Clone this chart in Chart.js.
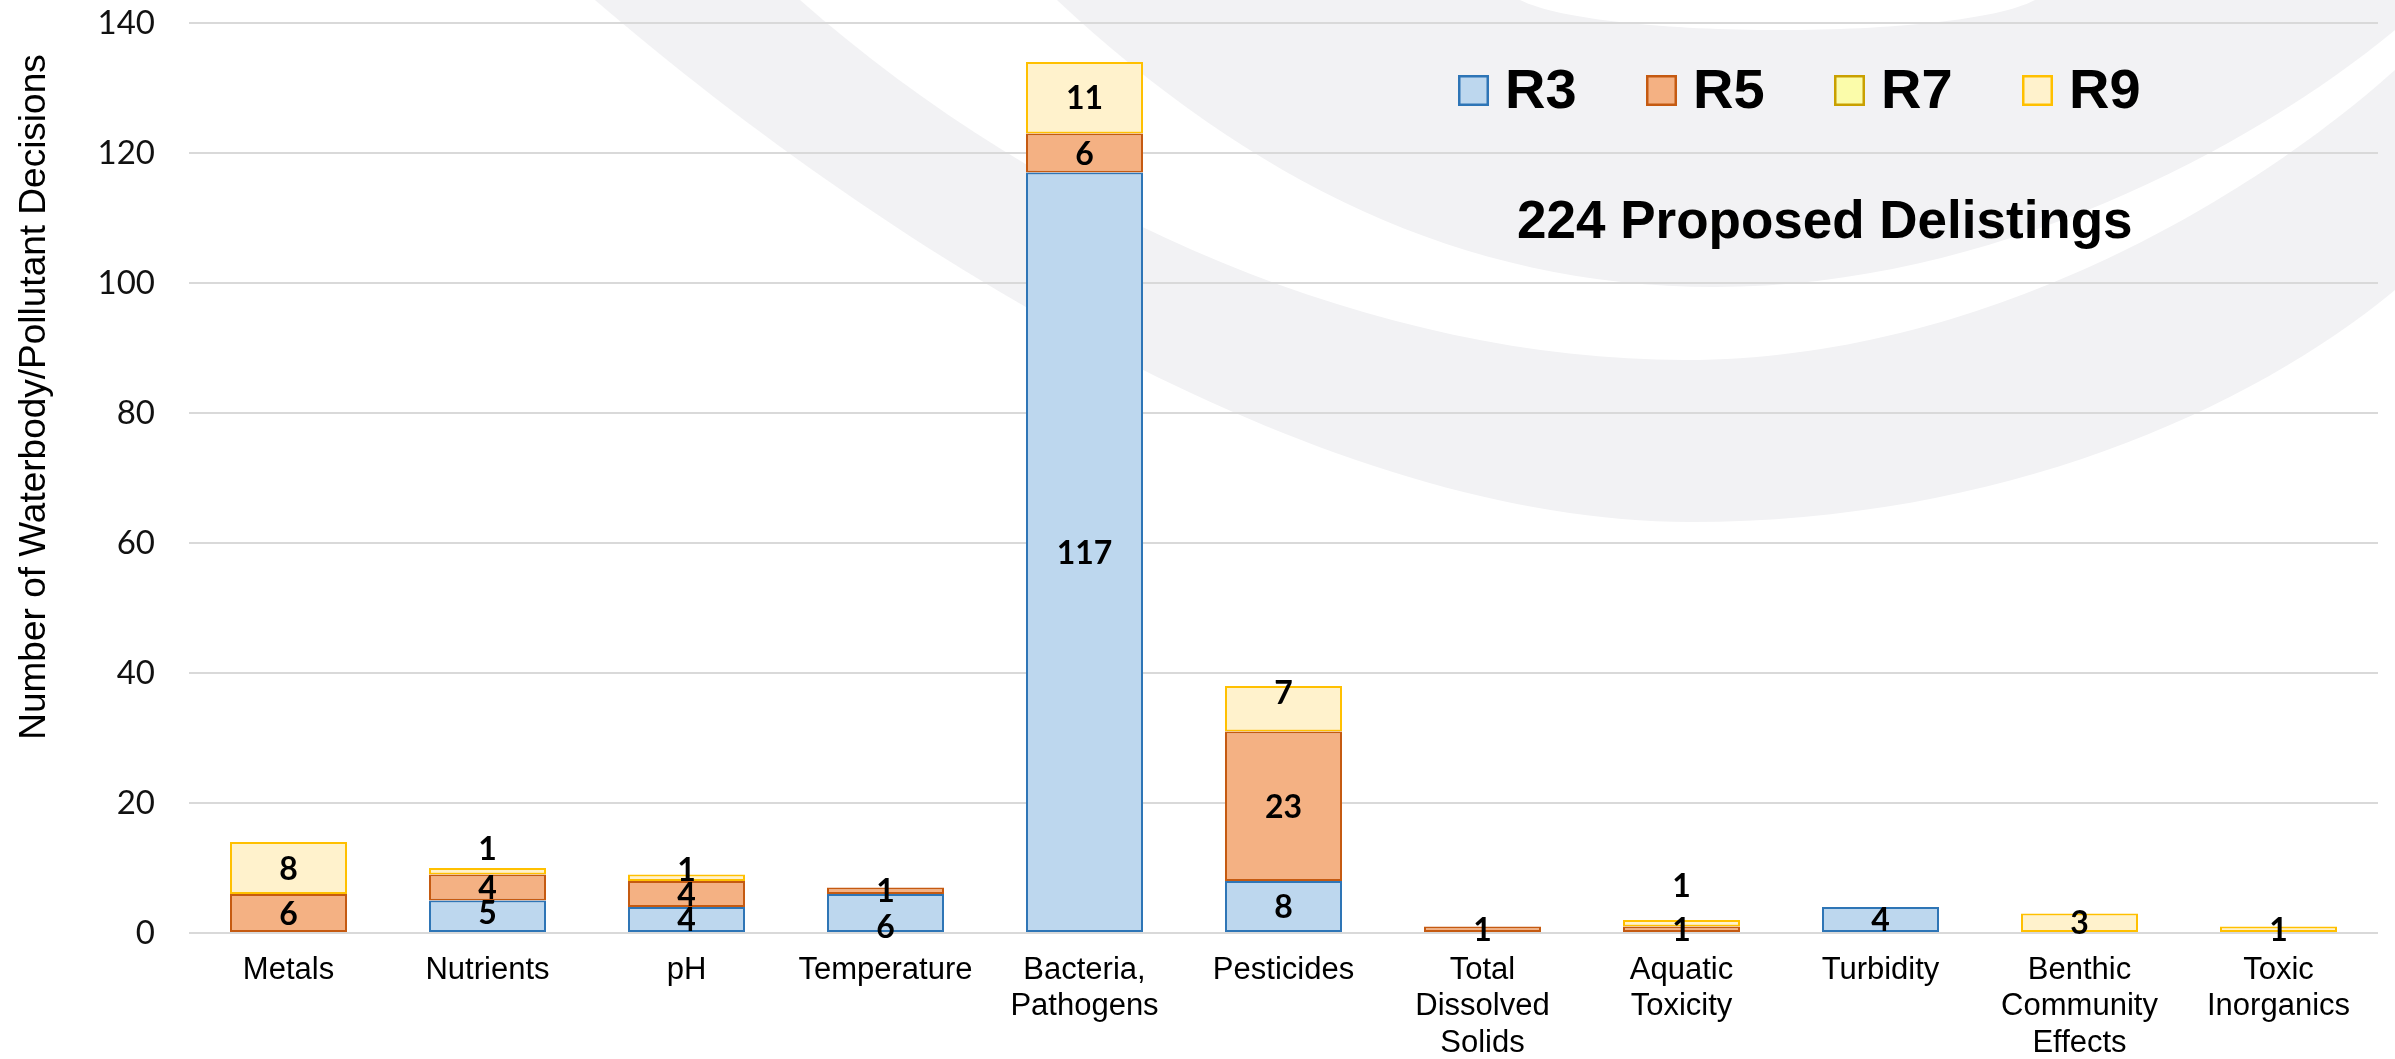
<!DOCTYPE html>
<html><head><meta charset="utf-8">
<script src="https://cdn.jsdelivr.net/npm/chart.js@4.4.1/dist/chart.umd.min.js"></script>
<style>html,body{margin:0;padding:0;background:#fff;overflow:hidden}#wrap{width:2395px;height:1059px;position:relative}canvas{display:block}</style>
</head><body><div id="wrap"><canvas id="c" width="2395" height="1059"></canvas></div>
<script>
// ---- data ----
const categories = [["Metals"],["Nutrients"],["pH"],["Temperature"],["Bacteria,","Pathogens"],["Pesticides"],["Total","Dissolved","Solids"],["Aquatic","Toxicity"],["Turbidity"],["Benthic","Community","Effects"],["Toxic","Inorganics"]];
const seriesNames = ["R3","R5","R7","R9"];
const r3Values = [null,5,4,6,117,8,null,null,4,null,null];
const r5Values = [6,4,4,1,6,23,1,1,null,null,null];
const r7Values = [null,null,null,null,null,null,null,null,null,null,null];
const r9Values = [8,1,1,null,11,7,null,1,null,3,1];
const yTickValues = [0,20,40,60,80,100,120,140];
const yAxisTitle = "Number of Waterbody/Pollutant Decisions";
const annotationText = "224 Proposed Delistings";

// ---- styles ----
const fills = ["#bdd7ee","#f4b183","#fbfcaa","#fff2cc"];
const borders = ["#2e75b6","#c55a11","#c9a000","#ffc000"];
const labelNudge = {"3:1":-23,"3:7":-38,"0:3":13,"3:5":-16,"3:2":-8,"0:1":-4};

const bgPlugin = {
  id:'bg',
  beforeDraw(chart){
    const ctx = chart.ctx;
    ctx.save();
    ctx.fillStyle = '#ffffff';
    ctx.fillRect(0,0,chart.width,chart.height);
    const gray = '#f2f2f4';
    ctx.fillStyle = gray;
    ctx.beginPath();
    ctx.moveTo(595,0);
    ctx.bezierCurveTo(900,262,1330,522,1690,522);
    ctx.bezierCurveTo(2000,522,2250,410,2395,290);
    ctx.lineTo(2395,0); ctx.closePath(); ctx.fill();
    ctx.fillStyle = '#ffffff';
    ctx.beginPath();
    ctx.moveTo(800,0);
    ctx.bezierCurveTo(1050,220,1380,360,1685,360);
    ctx.bezierCurveTo(1980,360,2250,200,2395,70);
    ctx.lineTo(2395,0); ctx.closePath(); ctx.fill();
    ctx.fillStyle = gray;
    ctx.beginPath();
    ctx.moveTo(1057,0);
    ctx.bezierCurveTo(1250,180,1460,287,1715,287);
    ctx.bezierCurveTo(1990,287,2250,150,2395,30);
    ctx.lineTo(2395,0); ctx.closePath(); ctx.fill();
    ctx.fillStyle = '#ffffff';
    ctx.beginPath();
    ctx.moveTo(1520,0);
    ctx.bezierCurveTo(1600,40,1960,40,2035,0);
    ctx.closePath(); ctx.fill();
    ctx.restore();
  }
};

const labelPlugin = {
  id:'labels',
  afterDatasetsDraw(chart){
    const ctx = chart.ctx;
    ctx.save();
    ctx.font = 'bold 32px Lato';
    ctx.fillStyle = '#000';
    ctx.textAlign = 'center';
    ctx.textBaseline = 'alphabetic';
    chart.data.datasets.forEach((ds,di)=>{
      const meta = chart.getDatasetMeta(di);
      meta.data.forEach((bar,i)=>{
        const v = ds.data[i];
        if (v === null || v === undefined) return;
        const nudge = labelNudge[di+':'+i] || 0;
        const cy = (bar.y + bar.base)/2 + nudge;
        ctx.fillText(String(v), bar.x, cy + 11.5);
      });
    });
    ctx.restore();
  },
  afterDraw(chart){
    const ctx = chart.ctx;
    ctx.save();
    chart.data.datasets.forEach((ds,di)=>{
      const bx = 1458 + di*188, by = 75;
      ctx.fillStyle = ds.backgroundColor;
      ctx.fillRect(bx,by,31,31);
      ctx.strokeStyle = ds.borderColor;
      ctx.lineWidth = 2.5;
      ctx.strokeRect(bx+1.25,by+1.25,28.5,28.5);
      ctx.fillStyle = '#000';
      ctx.font = 'bold 56px "Liberation Sans"';
      ctx.textAlign = 'left';
      ctx.textBaseline = 'alphabetic';
      ctx.fillText(ds.label, bx+47, 108);
    });
    ctx.font = 'bold 53px "Liberation Sans"';
    ctx.fillText(annotationText, 1517, 238);
    ctx.translate(45, 397);
    ctx.rotate(-Math.PI/2);
    ctx.font = '37px "Liberation Sans"';
    ctx.textAlign = 'center';
    ctx.fillText(yAxisTitle, 0, 0);
    ctx.restore();
  }
};

const seriesValues = [r3Values, r5Values, r7Values, r9Values];
const datasets = seriesNames.map((n,i)=>({
  label:n, data:seriesValues[i],
  backgroundColor:fills[i], borderColor:borders[i], borderWidth:2, borderSkipped:false,
  barPercentage:0.588, categoryPercentage:1.0, stack:'s'
}));

function make(){
  new Chart(document.getElementById('c'),{
    type:'bar',
    data:{labels:categories, datasets},
    options:{
      responsive:false, devicePixelRatio:1, animation:false,
      layout:{padding:{left:0,right:17,top:23,bottom:0}},
      plugins:{legend:{display:false}, tooltip:{enabled:false}, title:{display:false}},
      scales:{
        x:{stacked:true,
           grid:{display:false, drawTicks:false},
           border:{display:false},
           ticks:{font:{family:'"Liberation Sans"', size:31, lineHeight:1.18}, color:'#000', padding:19, maxRotation:0, minRotation:0, autoSkip:false},
           afterFit(s){ s.height = 126; s.paddingLeft = 0; s.paddingRight = 0; }
        },
        y:{stacked:true, min:0, max:140,
           afterBuildTicks(s){ s.ticks = yTickValues.map(v=>({value:v})); },
           grid:{color:'#d9d9d9', lineWidth:2, drawTicks:false},
           border:{display:false},
           ticks:{font:{family:'Lato', size:33}, color:'#111', padding:34},
           afterFit(s){ s.width = 189; s.paddingTop = 0; s.paddingBottom = 0; }
        }
      }
    },
    plugins:[bgPlugin,labelPlugin]
  });
}
const fl = [document.fonts.load('33px Lato'),document.fonts.load('bold 32px Lato'),document.fonts.load('31px "Liberation Sans"'),document.fonts.load('bold 56px "Liberation Sans"')];
Promise.all(fl).then(make, make);
</script></body></html>
